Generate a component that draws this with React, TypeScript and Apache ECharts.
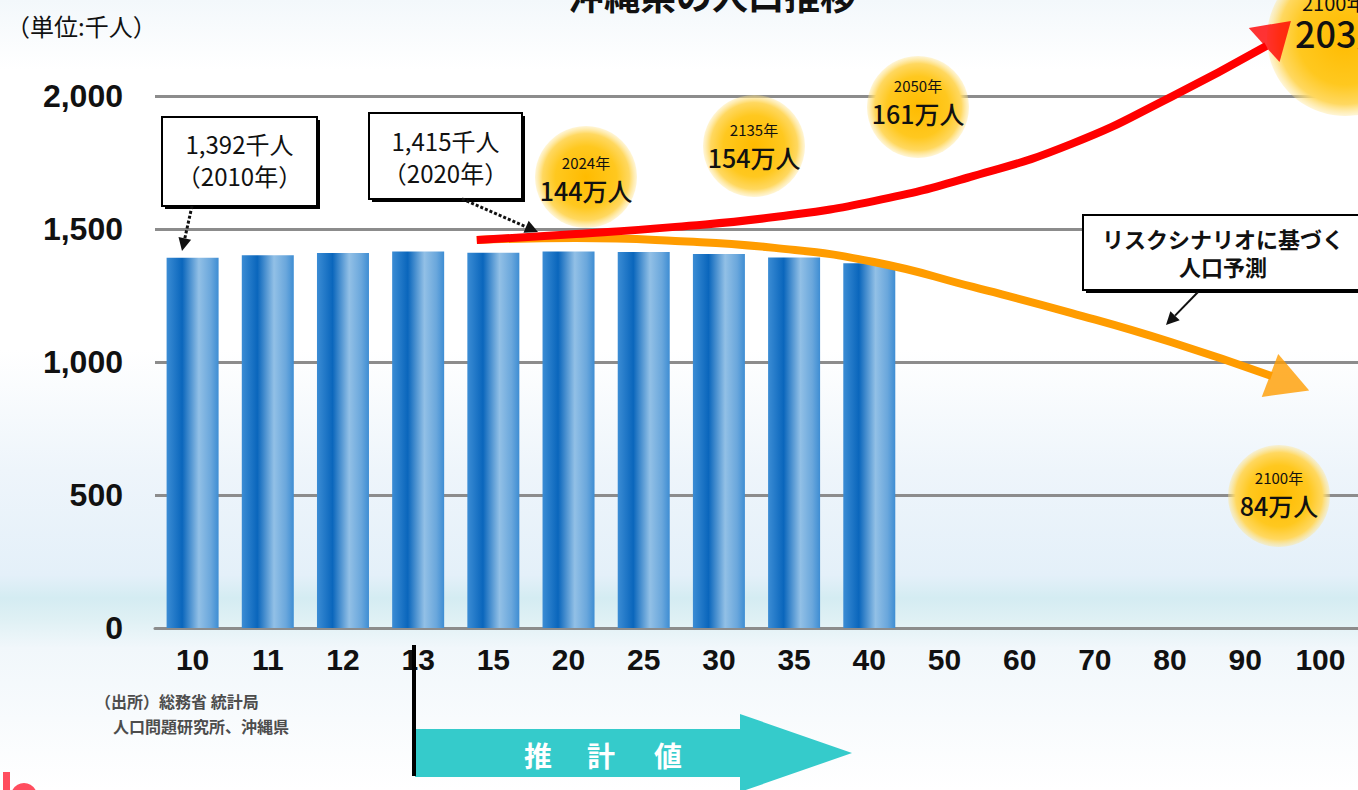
import React, { useEffect, useRef } from 'react';
import * as echarts from 'echarts';

// ---------- data ----------
const categories = ['10', '11', '12', '13', '15', '20', '25', '30', '35', '40', '50', '60', '70', '80', '90', '100'];
const populationK = [1392, 1401, 1410, 1415, 1411, 1415, 1414, 1406, 1393, 1371];
// curve points: [category position, 千人]
const optimisticPath = [
  [3.78, 1459], [5.1, 1481], [6.42, 1508], [7.74, 1545], [9.06, 1605],
  [10.38, 1699], [11.69, 1820], [13.01, 1996], [14.28, 2188],
];
const riskPath = [
  [3.78, 1459], [5.1, 1466], [6.42, 1455], [7.74, 1429], [9.06, 1376],
  [10.38, 1282], [11.69, 1184], [13.01, 1075], [14.35, 947],
];
const optimisticTip = [14.43, 2237];
const riskTip = [14.59, 921];

const bubbleYears = ['2024年', '2135年', '2050年', '2100年', '2100年'];
const bubbleValues = ['144万人', '154万人', '161万人', '84万人', '203万人'];
const callout2010 = ['1,392千人', '（2010年）'];
const callout2020 = ['1,415千人', '（2020年）'];
const calloutRisk = ['リスクシナリオに基づく', '人口予測'];
const titleText = '沖縄県の人口推移';
const unitText = '（単位:千人）';
const sourceLines = ['（出所）総務省 統計局', '人口問題研究所、沖縄県'];
const estimateChars = ['推', '計', '値'];

const JP = '"Noto Sans CJK JP", "Noto Sans", sans-serif';
const NUM = '"Liberation Sans", Arial, sans-serif';

function arrowHead(x1: number, y1: number, x2: number, y2: number, len: number, w: number) {
  const dx = x2 - x1, dy = y2 - y1;
  const d = Math.sqrt(dx * dx + dy * dy);
  const ux = dx / d, uy = dy / d;
  const bx = x2 - ux * len, by = y2 - uy * len;
  const px = -uy * w / 2, py = ux * w / 2;
  return [[x2, y2], [bx + px, by + py], [bx - px, by - py]];
}

function txt(text: string, x: number, y: number, size: number, opts: any = {}) {
  return {
    type: 'text',
    x,
    y,
    z: opts.z ?? 100,
    silent: true,
    style: {
      text,
      fill: opts.fill ?? '#111',
      fontSize: size,
      fontWeight: opts.weight ?? 'normal',
      fontFamily: opts.family ?? JP,
      lineHeight: size,
      align: opts.align ?? 'center',
      textAlign: opts.align ?? 'center',
      verticalAlign: opts.valign ?? 'middle',
      textVerticalAlign: opts.valign ?? 'middle',
    },
  };
}

const bubbleFill = {
  type: 'radial', x: 0.5, y: 0.5, r: 0.5,
  colorStops: [
    { offset: 0, color: '#ffbb00' },
    { offset: 0.6, color: '#ffc81f' },
    { offset: 0.85, color: '#ffd860' },
    { offset: 1, color: 'rgba(255,228,140,0.35)' },
  ],
};

function bubble(cx: number, cy: number, r: number, i: number, yOff: number, bigSize: number, align = 'center', tx = cx) {
  return [
    { type: 'circle', z: 1, silent: true, shape: { cx, cy, r }, style: { fill: bubbleFill } },
    txt(bubbleYears[i], tx, cy + yOff - 15, 15, { align }),
    txt(bubbleValues[i], tx, cy + yOff + 13, bigSize, { align, weight: 500 }),
  ];
}

function callBox(x: number, y: number, w: number, h: number, lines: string[], size: number, weight: any, l1: number, l2: number) {
  return [
    { type: 'rect', z: 20, silent: true, shape: { x: x + 3, y: y + 3, width: w, height: h }, style: { fill: '#000' } },
    { type: 'rect', z: 21, silent: true, shape: { x, y, width: w, height: h }, style: { fill: '#fff', stroke: '#000', lineWidth: 2 } },
    txt(lines[0], x + w / 2, l1, size, { weight, z: 22 }),
    txt(lines[1], x + w / 2, l2, size, { weight, z: 22 }),
  ];
}

function pointer(x1: number, y1: number, x2: number, y2: number, dash: boolean) {
  const h = arrowHead(x1, y1, x2, y2, 13, 13);
  const bx = (h[1][0] + h[2][0]) / 2, by = (h[1][1] + h[2][1]) / 2;
  return [
    {
      type: 'line', z: 30, silent: true,
      shape: { x1, y1, x2: bx, y2: by },
      style: { stroke: '#111', lineWidth: dash ? 3 : 2, lineDash: dash ? [3, 2] : null },
    },
    { type: 'polygon', z: 30, silent: true, shape: { points: h }, style: { fill: '#111' } },
  ];
}

export default function App() {
  const ref = useRef<HTMLDivElement>(null);

  useEffect(() => {
    if (!ref.current) return;
    const chart = echarts.init(ref.current, null, { renderer: 'svg' });

    const barGradient = new echarts.graphic.LinearGradient(0, 0, 1, 0, [
      { offset: 0, color: '#3b8cd4' },
      { offset: 0.3, color: '#0a66bc' },
      { offset: 0.62, color: '#92c0e6' },
      { offset: 0.85, color: '#6aa7dc' },
      { offset: 1, color: '#3e8dd3' },
    ]);

    const barData = categories.map((_, i) => (i < populationK.length ? populationK[i] : '-'));

    const graphics: any[] = [
      txt(titleText, 712, 12, 36, { weight: 'bold', valign: 'bottom' }),
      txt(unitText, 6, 25, 24, { align: 'left' }),
      ...bubble(586, 177, 51, 0, 0, 25),
      ...bubble(754, 146, 51, 1, -2, 25),
      ...bubble(918, 107, 51, 2, -7, 25),
      ...bubble(1279, 496, 51, 3, -4, 25),
      { type: 'circle', z: 1, silent: true, shape: { cx: 1345, cy: 38, r: 78 }, style: { fill: bubbleFill } },
      txt(bubbleYears[4], 1302, 2, 20, { align: 'left' }),
      txt(bubbleValues[4], 1295, 32, 36, { align: 'left', weight: 500 }),
      ...callBox(162, 117, 155, 89, callout2010, 24, 'normal', 143, 175),
      ...callBox(369, 113, 153, 86, callout2020, 24, 'normal', 140, 172),
      ...callBox(1083, 215, 280, 75, calloutRisk, 22, 'bold', 238, 266),
      ...pointer(192, 206, 182, 251, true),
      ...pointer(462, 199, 538, 232, true),
      ...pointer(1198, 292, 1166, 325, false),
      txt(sourceLines[0], 95, 701, 16, { align: 'left', weight: 'bold', fill: '#4d4d4d' }),
      txt(sourceLines[1], 113, 726, 16, { align: 'left', weight: 'bold', fill: '#4d4d4d' }),
      {
        type: 'polygon', z: 5, silent: true,
        shape: { points: [[415, 729], [740, 729], [740, 714], [852, 753], [740, 792], [740, 777], [415, 777]] },
        style: { fill: '#35cbcb' },
      },
      txt(estimateChars[0], 538, 755, 28, { weight: 'bold', fill: '#fff', z: 6 }),
      txt(estimateChars[1], 601, 755, 28, { weight: 'bold', fill: '#fff', z: 6 }),
      txt(estimateChars[2], 668, 755, 28, { weight: 'bold', fill: '#fff', z: 6 }),
      { type: 'rect', z: 7, silent: true, shape: { x: 412, y: 645, width: 4, height: 131 }, style: { fill: '#000' } },
      { type: 'rect', z: 7, silent: true, shape: { x: 3, y: 772, width: 7, height: 20 }, style: { fill: '#ff4d5e' } },
      { type: 'circle', z: 7, silent: true, shape: { cx: 24, cy: 796, r: 13 }, style: { fill: '#ff4d5e' } },
    ];

    chart.setOption({
      animation: false,
      backgroundColor: 'transparent',
      grid: { left: 155, right: -11, top: 96, bottom: 162, containLabel: false },
      xAxis: [
        {
          type: 'category',
          data: categories,
          axisLine: { lineStyle: { color: '#8c8c8c', width: 3 } },
          axisTick: { show: false },
          axisLabel: { fontSize: 30, fontWeight: 'bold', color: '#111', fontFamily: NUM, margin: 16 },
        },
        { type: 'value', min: -0.5, max: 15.5, show: false },
      ],
      yAxis: {
        type: 'value',
        min: 0,
        max: 2000,
        interval: 500,
        axisLine: { show: false },
        axisTick: { show: false },
        axisLabel: {
          fontSize: 32, fontWeight: 'bold', color: '#111', fontFamily: NUM, margin: 32,
          formatter: (v: number) => v.toLocaleString('en-US'),
        },
        splitLine: { lineStyle: { color: '#8c8c8c', width: 3 } },
      },
      series: [
        {
          type: 'bar',
          data: barData,
          barWidth: 52,
          itemStyle: { color: barGradient },
          z: 2,
        },
        {
          type: 'line',
          xAxisIndex: 1,
          data: riskPath,
          smooth: 0.5,
          symbol: 'none',
          clip: false,
          lineStyle: { color: '#ff9c00', width: 8 },
          z: 3,
        },
        {
          type: 'line',
          xAxisIndex: 1,
          data: optimisticPath,
          smooth: 0.5,
          symbol: 'none',
          clip: false,
          lineStyle: { color: '#ff0000', width: 8 },
          z: 4,
        },
        {
          type: 'scatter',
          xAxisIndex: 1,
          clip: false,
          symbol: 'triangle',
          data: [
            { value: riskTip, symbolRotate: -111, symbolSize: [46, 42], itemStyle: { color: '#ff9c00' } },
            { value: optimisticTip, symbolRotate: -48, symbolSize: [46, 36], itemStyle: { color: '#ff0000' } },
          ],
          z: 5,
        },
      ],
      graphic: graphics,
    });

    return () => chart.dispose();
  }, []);

  return (
    <div
      ref={ref}
      style={{
        position: 'absolute',
        left: 0,
        top: 0,
        width: 1358,
        height: 790,
        background:
          'linear-gradient(to bottom, #f3f8fb 0px, #ffffff 70px, #ffffff 350px, #eef5fb 470px, #e4f0f9 575px, #d4ecf2 598px, #def0f4 618px, #f1f7fb 648px, #ffffff 790px)',
      }}
    />
  );
}
